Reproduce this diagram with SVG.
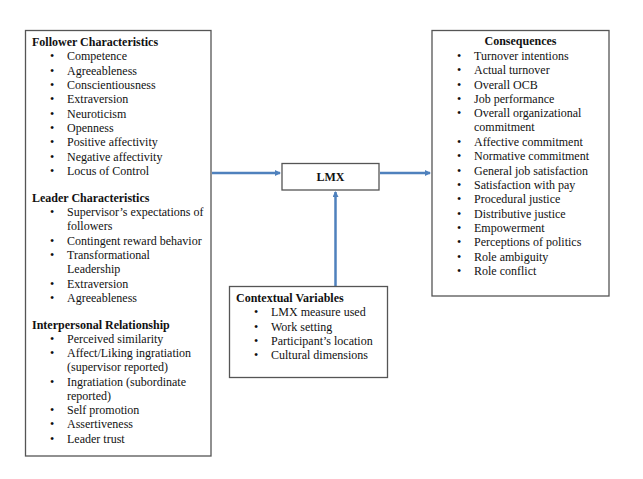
<svg xmlns="http://www.w3.org/2000/svg" width="643" height="479" viewBox="0 0 643 479">
<defs>
<style>
.box{fill:#fff;stroke:#555;stroke-width:1.3}
text{font-family:"Liberation Serif","Times New Roman",serif;font-size:12px;fill:#111}
.h{font-weight:bold}
.c{stroke:#4f81bd;stroke-width:2.5;fill:none}
</style>
<marker id="ah" markerWidth="6" markerHeight="6" refX="5" refY="3" orient="auto" markerUnits="userSpaceOnUse">
<path d="M0,0 L6,3 L0,6 Z" fill="#4f81bd"/>
</marker>
</defs>
<rect width="643" height="479" fill="#fff"/>
<g id="connectors">
<line class="c" x1="212" y1="173" x2="280" y2="173" marker-end="url(#ah)"/>
<line class="c" x1="380" y1="173" x2="430" y2="173" marker-end="url(#ah)"/>
<line class="c" x1="335.5" y1="286" x2="335.5" y2="192" marker-end="url(#ah)"/>
</g>
<g id="antecedents">
<rect class="box" x="25.5" y="30.5" width="185.5" height="425.5"/>
<text class="h" x="32" y="46">Follower Characteristics</text>
<g>
<text x="50" y="60">•</text><text x="67" y="60">Competence</text>
<text x="50" y="75">•</text><text x="67" y="75">Agreeableness</text>
<text x="50" y="89">•</text><text x="67" y="89">Conscientiousness</text>
<text x="50" y="103">•</text><text x="67" y="103">Extraversion</text>
<text x="50" y="118">•</text><text x="67" y="118">Neuroticism</text>
<text x="50" y="132">•</text><text x="67" y="132">Openness</text>
<text x="50" y="146">•</text><text x="67" y="146">Positive affectivity</text>
<text x="50" y="161">•</text><text x="67" y="161">Negative affectivity</text>
<text x="50" y="175">•</text><text x="67" y="175">Locus of Control</text>
</g>
<text class="h" x="32" y="202">Leader Characteristics</text>
<g>
<text x="50" y="216">•</text><text x="67" y="216">Supervisor’s expectations of</text>
<text x="67" y="230">followers</text>
<text x="50" y="245">•</text><text x="67" y="245">Contingent reward behavior</text>
<text x="50" y="259">•</text><text x="67" y="259">Transformational</text>
<text x="67" y="273">Leadership</text>
<text x="50" y="288">•</text><text x="67" y="288">Extraversion</text>
<text x="50" y="302">•</text><text x="67" y="302">Agreeableness</text>
</g>
<text class="h" x="32" y="329">Interpersonal Relationship</text>
<g>
<text x="50" y="343">•</text><text x="67" y="343">Perceived similarity</text>
<text x="50" y="357">•</text><text x="67" y="357">Affect/Liking ingratiation</text>
<text x="67" y="371">(supervisor reported)</text>
<text x="50" y="386">•</text><text x="67" y="386">Ingratiation (subordinate</text>
<text x="67" y="400">reported)</text>
<text x="50" y="414">•</text><text x="67" y="414">Self promotion</text>
<text x="50" y="428">•</text><text x="67" y="428">Assertiveness</text>
<text x="50" y="443">•</text><text x="67" y="443">Leader trust</text>
</g>
</g>
<g id="lmx">
<rect class="box" x="282" y="163.5" width="97" height="26.5"/>
<text class="h" x="330.5" y="181" text-anchor="middle">LMX</text>
</g>
<g id="contextual">
<rect class="box" x="229.5" y="286.5" width="158" height="91"/>
<text class="h" x="236" y="302">Contextual Variables</text>
<text x="254" y="316">•</text><text x="271" y="316">LMX measure used</text>
<text x="254" y="331">•</text><text x="271" y="331">Work setting</text>
<text x="254" y="345">•</text><text x="271" y="345">Participant’s location</text>
<text x="254" y="359">•</text><text x="271" y="359">Cultural dimensions</text>
</g>
<g id="consequences">
<rect class="box" x="432" y="30.5" width="177" height="265.5"/>
<text class="h" x="520.5" y="45" text-anchor="middle">Consequences</text>
<text x="457" y="60">•</text><text x="474" y="60">Turnover intentions</text>
<text x="457" y="74">•</text><text x="474" y="74">Actual turnover</text>
<text x="457" y="89">•</text><text x="474" y="89">Overall OCB</text>
<text x="457" y="103">•</text><text x="474" y="103">Job performance</text>
<text x="457" y="117">•</text><text x="474" y="117">Overall organizational</text>
<text x="474" y="131">commitment</text>
<text x="457" y="146">•</text><text x="474" y="146">Affective commitment</text>
<text x="457" y="160">•</text><text x="474" y="160">Normative commitment</text>
<text x="457" y="175">•</text><text x="474" y="175">General job satisfaction</text>
<text x="457" y="189">•</text><text x="474" y="189">Satisfaction with pay</text>
<text x="457" y="203">•</text><text x="474" y="203">Procedural justice</text>
<text x="457" y="218">•</text><text x="474" y="218">Distributive justice</text>
<text x="457" y="232">•</text><text x="474" y="232">Empowerment</text>
<text x="457" y="246">•</text><text x="474" y="246">Perceptions of politics</text>
<text x="457" y="261">•</text><text x="474" y="261">Role ambiguity</text>
<text x="457" y="275">•</text><text x="474" y="275">Role conflict</text>
</g>
</svg>
